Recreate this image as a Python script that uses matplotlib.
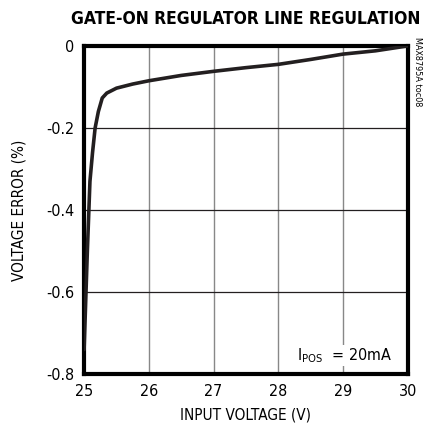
import matplotlib.pyplot as plt

# input voltage (V) vs voltage error (%)
vin = [25.0, 25.05, 25.09, 25.13, 25.17, 25.22, 25.28, 25.35, 25.5, 25.75,
       26.0, 26.5, 27.0, 27.5, 28.0, 28.5, 29.0, 29.5, 30.0]
verr = [-0.74, -0.5, -0.33, -0.26, -0.2, -0.16, -0.127, -0.115, -0.103, -0.093,
        -0.085, -0.072, -0.062, -0.053, -0.045, -0.033, -0.02, -0.012, 0.0]

xticks = [25, 26, 27, 28, 29, 30]
yticks = [0, -0.2, -0.4, -0.6, -0.8]
ylabels = ['0', '-0.2', '-0.4', '-0.6', '-0.8']

plt.rcParams['font.family'] = ['DejaVu Sans']
plt.rcParams['font.stretch'] = 'condensed'

fig = plt.figure(figsize=(4.27, 4.33), dpi=100)
ax = fig.add_axes([0.197, 0.136, 0.758, 0.758])

ax.plot(vin, verr, color='#231f20', lw=2.6, solid_capstyle='round', zorder=3)

ax.set_xlim(25, 30)
ax.set_ylim(-0.8, 0)
ax.set_xticks(xticks)
ax.set_yticks(yticks)
ax.set_yticklabels(ylabels)
ax.tick_params(length=0, labelsize=11.5, pad=7)
ax.grid(True, color='#231f20', lw=0.9)
ax.xaxis.grid(True, color='#888888', lw=1.0)
for s in ax.spines.values():
    s.set_linewidth(3)
    s.set_color('black')

ax.set_xlabel('INPUT VOLTAGE (V)', fontsize=11, labelpad=6)
ax.set_ylabel('VOLTAGE ERROR (%)', fontsize=11, labelpad=14)
fig.text(0.576, 0.955, 'GATE-ON REGULATOR LINE REGULATION', ha='center', va='center',
         fontsize=12.5, fontweight='bold')
fig.text(0.978, 0.835, 'MAX8795A toc08', rotation=270, ha='center', va='center', fontsize=6.5)
ax.text(29.75, -0.755, r'I$_{\mathregular{POS}}$  = 20mA', ha='right', va='center', fontsize=11.5,
        bbox=dict(facecolor='white', edgecolor='none', pad=1))

fig.savefig('out.png', dpi=100)
